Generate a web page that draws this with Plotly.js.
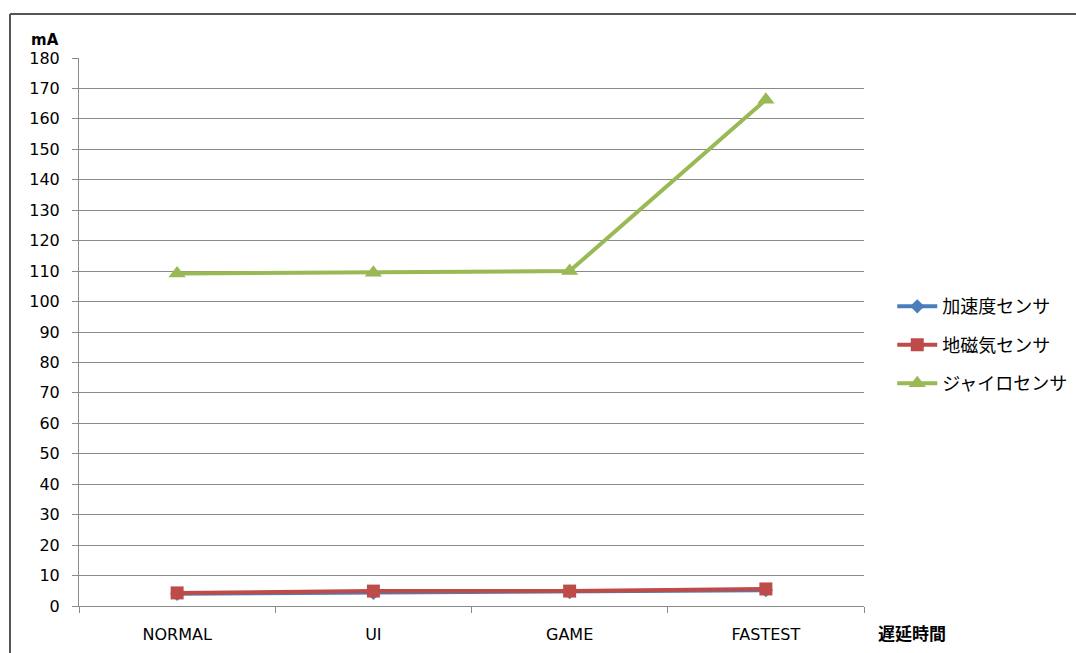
<!DOCTYPE html>
<html>
<head>
<meta charset="utf-8">
<script src="https://cdn.plot.ly/plotly-3.0.1.min.js"></script>
<style>
  html, body { margin: 0; padding: 0; background: #ffffff; }
  #chart { width: 1076px; height: 653px; }
</style>
</head>
<body>
<div id="chart"></div>
<script>
// Sampling-rate modes on the x axis
const modes = ["NORMAL", "UI", "GAME", "FASTEST"];

// Current draw (mA) per sensor
const accelMA = [4.0, 4.3, 4.6, 5.2];
const magnetMA = [4.3, 4.9, 4.9, 5.6];
const gyroMA = [109.2, 109.5, 110.0, 166.3];

const seriesNames = ["加速度センサ", "地磁気センサ", "ジャイロセンサ"];
const yTicks = [0, 10, 20, 30, 40, 50, 60, 70, 80, 90, 100, 110, 120, 130, 140, 150, 160, 170, 180];

const gridGray = "#8a8a8a";

const traces = [
  {
    x: modes, y: accelMA, name: seriesNames[0], legendgroup: "a",
    mode: "lines+markers",
    line: { color: "#4a7ebb", width: 4 },
    marker: { symbol: "diamond", size: 11, color: "#4a7ebb" }
  },
  {
    x: modes, y: magnetMA, name: seriesNames[1], legendgroup: "b",
    mode: "lines+markers",
    line: { color: "#be4b48", width: 4 },
    marker: { symbol: "square", size: 13, color: "#be4b48" }
  },
  {
    x: modes, y: gyroMA, name: seriesNames[2], legendgroup: "c",
    mode: "lines+markers",
    line: { color: "#98b954", width: 4 },
    marker: { symbol: "triangle-up", size: 15, color: "#98b954" }
  }
];

const layout = {
  width: 1076,
  height: 653,
  margin: { l: 79, r: 212, t: 58, b: 47, autoexpand: false },
  paper_bgcolor: "#ffffff",
  plot_bgcolor: "#ffffff",
  showlegend: true,
  font: { family: "DejaVu Sans, Verdana, sans-serif", color: "#000000" },
  xaxis: {
    type: "category",
    tickson: "boundaries",
    showgrid: false,
    showline: true,
    linecolor: gridGray,
    linewidth: 1,
    ticks: "outside",
    ticklen: 6,
    tickcolor: gridGray,
    ticklabelstandoff: 14,
    tickfont: { family: "DejaVu Sans, sans-serif", size: 16, color: "#000000" },
    range: [-0.5, 3.5],
    zeroline: false
  },
  yaxis: {
    range: [0, 180],
    tickvals: yTicks,
    showgrid: true,
    gridcolor: gridGray,
    gridwidth: 1,
    showline: true,
    linecolor: gridGray,
    linewidth: 1,
    ticks: "outside",
    ticklen: 6,
    tickcolor: gridGray,
    ticklabelstandoff: 9,
    tickfont: { family: "DejaVu Sans, sans-serif", size: 16, color: "#000000" },
    zeroline: false
  },
  legend: {
    x: 1.036, xanchor: "left",
    y: 0.476, yanchor: "middle",
    bgcolor: "rgba(0,0,0,0)",
    font: { family: "Noto Sans CJK JP, sans-serif", size: 18, color: "#000000" },
    itemwidth: 40,
    tracegroupgap: 12,
    traceorder: "grouped"
  },
  annotations: [
    {
      text: "<b>mA</b>", xref: "paper", yref: "paper",
      x: -0.043, y: 1.033, xanchor: "center", yanchor: "middle",
      showarrow: false,
      font: { family: "DejaVu Sans, sans-serif", size: 15, color: "#000000" }
    },
    {
      text: "<b>遅延時間</b>", xref: "paper", yref: "paper",
      x: 1.061, y: -0.049, xanchor: "center", yanchor: "middle",
      showarrow: false,
      font: { family: "Noto Sans CJK JP, sans-serif", size: 17, color: "#000000" }
    }
  ],
  shapes: [
    // outer chart-area frame (top and left edges)
    {
      type: "line", xref: "paper", yref: "paper",
      x0: -0.0879, x1: 1.3, y0: 1.0803, y1: 1.0803,
      line: { color: "#555555", width: 2 }
    },
    {
      type: "line", xref: "paper", yref: "paper",
      x0: -0.0879, x1: -0.0879, y0: 1.0803, y1: -0.2,
      line: { color: "#555555", width: 2 }
    }
  ]
};

Plotly.newPlot("chart", traces, layout, { displayModeBar: false, staticPlot: true });
</script>
</body>
</html>
